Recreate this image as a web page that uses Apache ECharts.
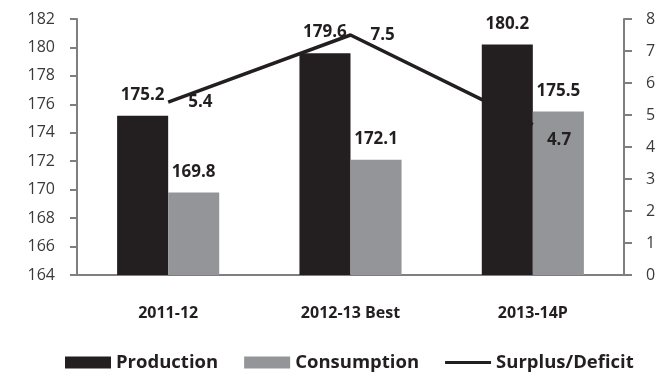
<!DOCTYPE html>
<html>
<head>
<meta charset="utf-8">
<script src="https://cdn.jsdelivr.net/npm/echarts@6/dist/echarts.min.js"></script>
<style>
  html, body { margin: 0; padding: 0; background: #fff; }
  #chart { width: 664px; height: 373px; }
</style>
</head>
<body>
<div id="chart"></div>
<script>
// Sugar balance by season (million tonnes)
const seasons = ['2011-12', '2012-13 Best', '2013-14P'];
const production = [175.2, 179.6, 180.2];
const consumption = [169.8, 172.1, 175.5];
const surplus = [5.4, 7.5, 4.7];
const leftTicks = { min: 164, max: 182, step: 2 };
const rightTicks = { min: 0, max: 8, step: 1 };

const ink = '#231f20';
const grey = '#939598';
const axisGrey = '#7f7f7f';
const font = '"Open Sans", "Noto Sans", sans-serif';

const chart = echarts.init(document.getElementById('chart'));

const valueLabel = {
  show: true,
  position: 'top',
  distance: 12,
  color: ink,
  fontFamily: font,
  fontWeight: 'bold',
  fontSize: 17
};

chart.setOption({
  animation: false,
  textStyle: { fontFamily: font },
  grid: { left: 77, right: 40, top: 19, bottom: 98 },
  legend: {
    top: 348,
    left: 60,
    itemWidth: 46,
    itemHeight: 12,
    itemGap: 26,
    textStyle: { color: ink, fontFamily: font, fontWeight: 'bold', fontSize: 18.5 },
    data: [
      { name: 'Production', icon: 'rect' },
      { name: 'Consumption', icon: 'rect' },
      { name: 'Surplus/Deficit', icon: 'path://M0,0L46,0L46,3L0,3Z' }
    ]
  },
  xAxis: {
    type: 'category',
    data: seasons,
    axisLine: { show: true, lineStyle: { color: axisGrey, width: 2 } },
    axisTick: { show: false },
    axisLabel: { color: ink, fontFamily: font, fontWeight: 'bold', fontSize: 16, margin: 30 }
  },
  yAxis: [
    {
      type: 'value',
      min: leftTicks.min,
      max: leftTicks.max,
      interval: leftTicks.step,
      splitLine: { show: false },
      axisLine: { show: true, lineStyle: { color: axisGrey, width: 2 } },
      axisTick: { show: true, length: 7, lineStyle: { color: axisGrey, width: 2 } },
      axisLabel: { color: '#3a3a3a', fontFamily: font, fontSize: 16, margin: 22 }
    },
    {
      type: 'value',
      position: 'right',
      min: rightTicks.min,
      max: rightTicks.max,
      interval: rightTicks.step,
      splitLine: { show: false },
      axisLine: { show: true, lineStyle: { color: axisGrey, width: 2 } },
      axisTick: { show: true, length: 8, lineStyle: { color: axisGrey, width: 2 } },
      axisLabel: { color: '#3a3a3a', fontFamily: font, fontSize: 16, margin: 22 }
    }
  ],
  series: [
    {
      name: 'Production',
      type: 'bar',
      data: production,
      barWidth: '28%',
      barGap: '0%',
      itemStyle: { color: ink },
      label: valueLabel
    },
    {
      name: 'Consumption',
      type: 'bar',
      data: consumption,
      barWidth: '28%',
      itemStyle: { color: grey },
      label: valueLabel
    },
    {
      name: 'Surplus/Deficit',
      type: 'line',
      yAxisIndex: 1,
      symbol: 'circle',
      symbolSize: 0.1,
      showSymbol: true,
      z: 5,
      lineStyle: { color: ink, width: 3.5 },
      itemStyle: { color: ink },
      label: {
        show: true,
        position: 'right',
        distance: 20,
        color: ink,
        fontFamily: font,
        fontWeight: 'bold',
        fontSize: 17
      },
      data: surplus.map((v, i) => i === 2
        ? { value: v, label: { distance: 14, offset: [0, 16] } }
        : v)
    }
  ]
});
</script>
</body>
</html>
